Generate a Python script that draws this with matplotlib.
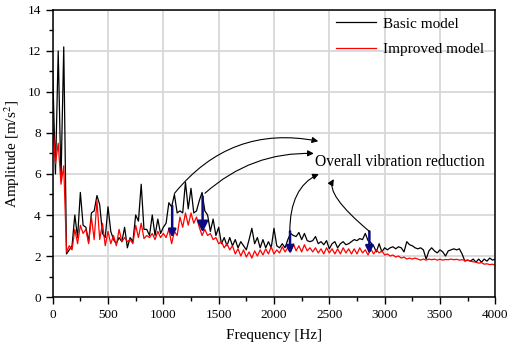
import numpy as np
import matplotlib.pyplot as plt
from matplotlib.ticker import MultipleLocator

plt.rcParams['font.family'] = ['Liberation Serif', 'DejaVu Serif']
plt.rcParams['mathtext.fontset'] = 'stix'

# frequency axis, 25 Hz resolution
freq = np.arange(0, 4001, 25)

basic = [
    11.0, 6.0, 12.0, 5.7, 12.2, 2.1, 2.3, 2.5,
    4.0, 2.9, 5.1, 3.5, 3.4, 2.7, 4.1, 4.2,
    4.95, 4.5, 3.1, 2.9, 4.4, 3.2, 2.8, 2.6,
    2.9, 2.7, 3.4, 2.4, 2.9, 2.7, 4.0, 3.7,
    5.5, 3.3, 3.3, 3.0, 4.0, 3.0, 3.8, 3.1,
    3.4, 3.6, 4.6, 4.4, 5.0, 4.1, 4.2, 4.1,
    5.6, 4.3, 5.3, 4.1, 4.2, 4.7, 5.1, 4.2,
    4.0, 3.2, 3.8, 3.0, 3.4, 2.6, 2.9, 2.5,
    2.9, 2.5, 2.8, 2.4, 2.7, 2.5, 2.3, 2.8,
    3.35, 2.6, 2.9, 2.4, 2.8, 2.4, 2.7, 2.4,
    3.35, 2.5, 2.4, 2.6, 2.4, 2.8, 3.1, 3.0,
    2.95, 3.15, 2.8, 3.1, 2.75, 2.7, 2.75, 2.95,
    2.6, 2.7, 2.55, 2.75, 2.35, 2.6, 2.7, 2.4,
    2.6, 2.7, 2.55, 2.6, 2.7, 2.8, 2.75, 2.85,
    2.8, 3.1, 2.75, 2.65, 2.5, 2.2, 2.6, 2.2,
    2.4, 2.3, 2.4, 2.45, 2.35, 2.45, 2.4, 2.2,
    2.7, 2.55, 2.5, 2.4, 2.35, 2.4, 2.3, 1.85,
    2.25, 2.4, 2.25, 2.15, 2.3, 2.2, 2.0, 2.25,
    2.3, 2.35, 2.3, 2.35, 2.1, 1.75, 1.8, 1.75,
    1.85, 1.7, 1.85, 1.7, 1.85, 1.75, 1.9, 1.8,
    1.85,
]

improved = [
    8.6, 6.5, 7.5, 5.5, 6.4, 2.2, 2.5, 2.3,
    3.3, 2.6, 3.5, 3.1, 3.3, 2.6, 3.9, 2.8,
    4.7, 2.8, 3.6, 2.5, 3.2, 2.6, 3.0, 2.5,
    3.3, 2.7, 2.9, 2.7, 2.8, 2.6, 3.5, 2.9,
    3.6, 2.85, 3.0, 2.9, 3.1, 2.8, 3.2, 2.9,
    3.1, 2.9, 3.3, 2.6, 3.2, 3.0, 3.9, 3.4,
    4.1, 3.5, 4.1, 3.6, 3.9, 3.4, 3.0, 3.3,
    3.0, 3.1, 2.8, 2.9, 2.6, 2.7, 2.4, 2.6,
    2.3, 2.5, 2.1, 2.35, 2.0, 2.3, 1.95, 2.2,
    1.9, 2.25, 2.0, 2.3, 2.05, 2.35, 2.1, 2.45,
    2.1, 2.3, 2.15, 2.45, 2.2, 2.4, 2.2, 2.6,
    2.25, 2.5, 2.2, 2.55, 2.25, 2.4, 2.2, 2.4,
    2.15, 2.35, 2.1, 2.4, 2.15, 2.35, 2.1, 2.35,
    2.1, 2.4, 2.15, 2.35, 2.1, 2.35, 2.1, 2.4,
    2.15, 2.3, 2.05, 2.35, 2.1, 2.3, 2.15, 2.25,
    2.05, 2.1, 2.0, 2.05, 1.95, 2.0, 1.9, 1.95,
    1.85, 1.9, 1.85, 1.9, 1.85, 1.8, 1.85, 1.8,
    1.85, 1.82, 1.85, 1.8, 1.84, 1.8, 1.83, 1.82,
    1.85, 1.82, 1.84, 1.8, 1.82, 1.78, 1.8, 1.75,
    1.72, 1.7, 1.65, 1.68, 1.6, 1.62, 1.58, 1.6,
    1.55,
]

# blue "reduction" arrows: frequency, top, bottom
red_f = [1080, 1355, 2145, 2862]
red_top = [4.45, 4.9, 3.2, 3.2]
red_bot = [2.9, 3.15, 2.1, 2.1]

fig = plt.figure(figsize=(5.08, 3.44), dpi=100)
ax = fig.add_axes([0.1037, 0.1366, 0.8713, 0.8344])

ax.plot(freq, basic, color='black', lw=0.9, label='Basic model')
ax.plot(freq, improved, color='red', lw=0.9, label='Improved model')

ax.set_xlim(0, 4000)
ax.set_ylim(0, 14)
ax.xaxis.set_major_locator(MultipleLocator(500))
ax.xaxis.set_minor_locator(MultipleLocator(250))
ax.yaxis.set_major_locator(MultipleLocator(2))
ax.yaxis.set_minor_locator(MultipleLocator(1))
ax.grid(True, which='major', color='#d8d8d8', lw=1.3)
ax.set_axisbelow(True)
ax.tick_params(which='both', direction='out', top=False, right=False, labelsize=9.5)
ax.tick_params(which='major', length=5, width=1)
ax.tick_params(which='minor', length=3, width=1)
for s in ax.spines.values():
    s.set_linewidth(1.1)

ax.set_xlabel('Frequency [Hz]', fontsize=11, labelpad=6)
ax.set_ylabel('Amplitude [m/s$^2$]', fontsize=11, labelpad=4)

ax.legend(loc='upper left', bbox_to_anchor=(0.64, 0.975), frameon=False,
          fontsize=11, handlelength=2.6, handletextpad=0.45, labelspacing=0.75,
          borderpad=0, borderaxespad=0)

# blue arrows
for i in range(len(red_f)):
    ms = 16 if i == 1 else 11
    ax.annotate('', xy=(red_f[i], red_bot[i]), xytext=(red_f[i], red_top[i]),
                arrowprops=dict(arrowstyle='-|>', color='#0a0a80', lw=1.8,
                                mutation_scale=ms, shrinkA=0, shrinkB=0))

# black curved pointers to the text
black_kw = dict(arrowstyle='-|>', color='black', lw=0.8, mutation_scale=9,
                shrinkA=0, shrinkB=0)
ax.annotate('', xy=(2400, 7.6), xytext=(1100, 5.05),
            arrowprops=dict(connectionstyle='arc3,rad=-0.3', **black_kw))
ax.annotate('', xy=(2360, 7.0), xytext=(1376, 5.06),
            arrowprops=dict(connectionstyle='arc3,rad=-0.2', **black_kw))
ax.annotate('', xy=(2405, 6.0), xytext=(2143, 3.2),
            arrowprops=dict(connectionstyle='angle3,angleA=90,angleB=25', **black_kw))
ax.annotate('', xy=(2540, 5.75), xytext=(2862, 3.2),
            arrowprops=dict(connectionstyle='angle3,angleA=140,angleB=60', **black_kw))

ax.text(2370, 6.6, 'Overall vibration reduction', fontsize=11.2, va='center', ha='left')

fig.savefig('out.png', dpi=100)
